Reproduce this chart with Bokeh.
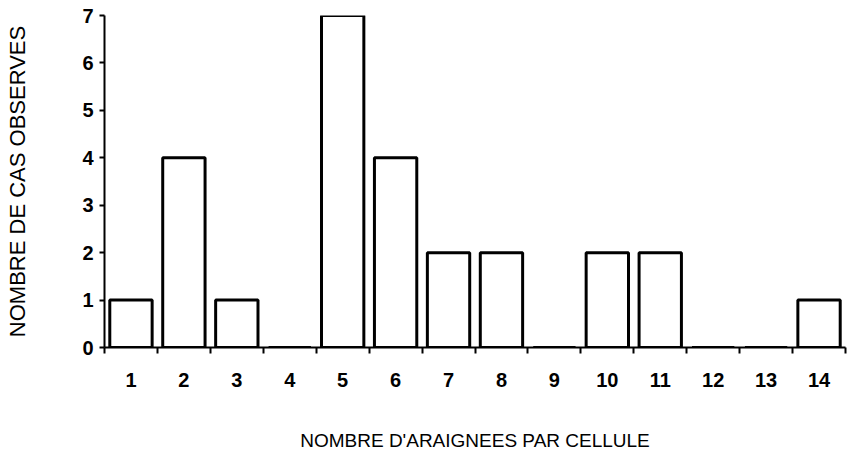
from bokeh.plotting import figure
from bokeh.models import FixedTicker, Range1d, ColumnDataSource
from bokeh.embed import file_html
from bokeh.resources import INLINE

# Data
categories = [1, 2, 3, 4, 5, 6, 7, 8, 9, 10, 11, 12, 13, 14]
counts = [1, 4, 1, 0, 7, 4, 2, 2, 0, 2, 2, 0, 0, 1]
tick_labels = [str(c) for c in categories]
y_ticks = [0, 1, 2, 3, 4, 5, 6, 7]

x_title = "NOMBRE D'ARAIGNEES PAR CELLULE"
y_title = "NOMBRE DE CAS OBSERVES"

boundaries = [c - 0.5 for c in categories] + [categories[-1] + 0.5]

p = figure(width=847, height=464, output_backend="svg", toolbar_location=None,
           x_range=Range1d(categories[0] - 0.5, categories[-1] + 0.5),
           y_range=Range1d(0, 7),
           min_border_left=104, min_border_right=2, min_border_top=15,
           min_border_bottom=117)
p.outline_line_color = None
p.xgrid.grid_line_color = None
p.ygrid.grid_line_color = None
p.background_fill_color = "white"
p.border_fill_color = "white"

src = ColumnDataSource(data=dict(x=categories, top=counts))
p.vbar(x="x", top="top", bottom=0, width=0.8, source=src,
       fill_color="white", line_color="black", line_width=3)

FONT = "Liberation Sans"

xa = p.xaxis[0]
xa.ticker = FixedTicker(ticks=categories, minor_ticks=boundaries)
xa.major_label_overrides = {c: l for c, l in zip(categories, tick_labels)}
xa.axis_line_width = 2
xa.axis_line_color = "black"
xa.major_tick_out = 0
xa.major_tick_in = 0
xa.minor_tick_out = 6
xa.minor_tick_in = 0
xa.minor_tick_line_width = 2
xa.minor_tick_line_color = "black"
xa.major_label_text_font = FONT
xa.major_label_text_font_style = "bold"
xa.major_label_text_font_size = "20px"
xa.major_label_text_color = "black"
xa.major_label_standoff = 19
xa.axis_label = x_title
xa.axis_label_text_font = FONT
xa.axis_label_text_font_style = "normal"
xa.axis_label_text_font_size = "19px"
xa.axis_label_text_color = "black"
xa.axis_label_standoff = 40

ya = p.yaxis[0]
ya.ticker = FixedTicker(ticks=y_ticks, minor_ticks=[])
ya.axis_line_width = 2
ya.axis_line_color = "black"
ya.major_tick_out = 5
ya.major_tick_in = 0
ya.major_tick_line_width = 2
ya.major_tick_line_color = "black"
ya.minor_tick_out = 0
ya.minor_tick_in = 0
ya.major_label_text_font = FONT
ya.major_label_text_font_style = "bold"
ya.major_label_text_font_size = "20px"
ya.major_label_text_color = "black"
ya.major_label_standoff = 6
ya.axis_label = y_title
ya.axis_label_text_font = FONT
ya.axis_label_text_font_style = "normal"
ya.axis_label_text_font_size = "22px"
ya.axis_label_text_color = "black"
ya.axis_label_standoff = 49

open("out.html", "w").write(file_html(p, INLINE))
